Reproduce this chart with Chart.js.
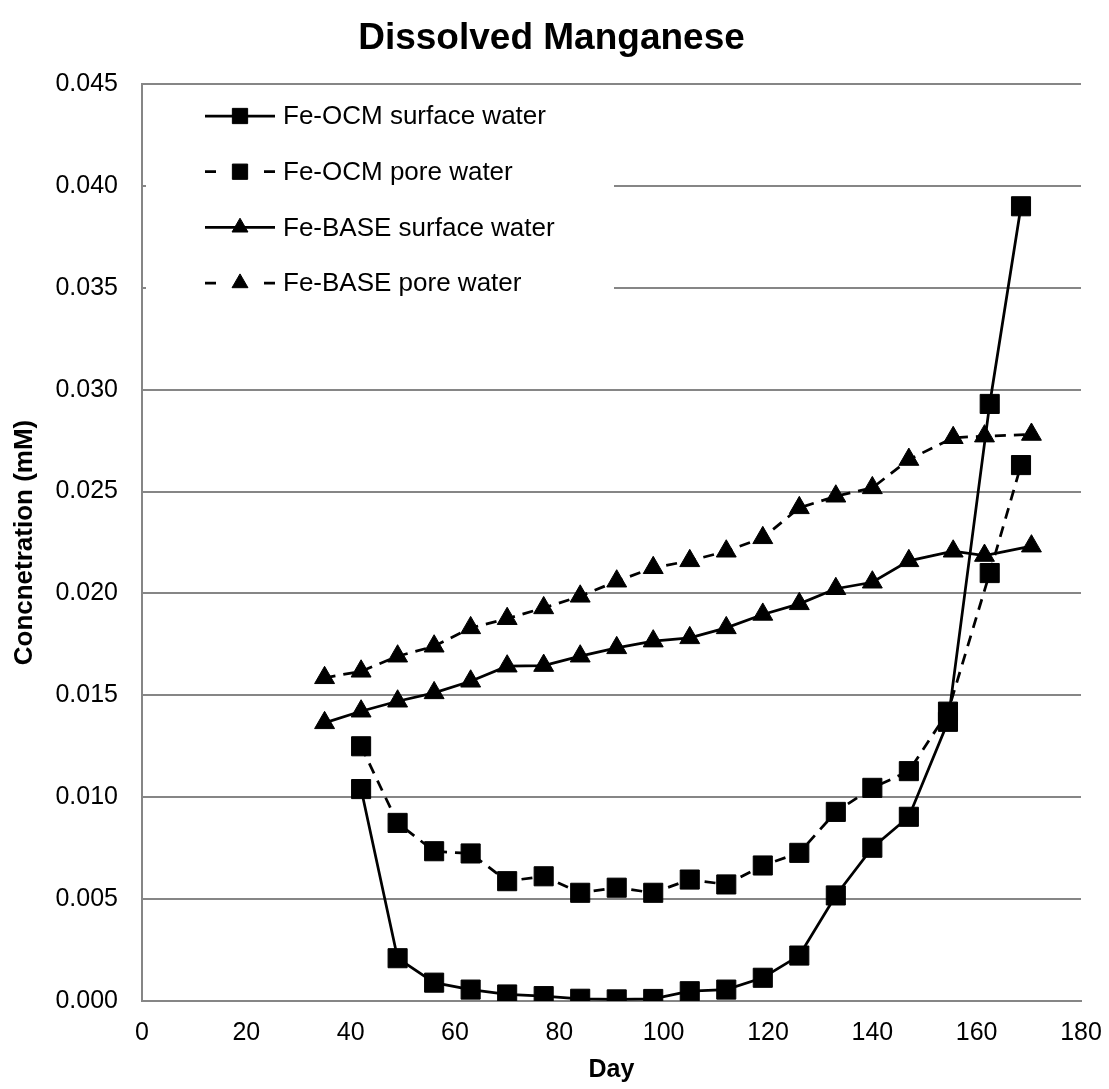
<!DOCTYPE html>
<html>
<head>
<meta charset="utf-8">
<title>Dissolved Manganese</title>
<script src="https://cdn.jsdelivr.net/npm/chart.js@4.4.1/dist/chart.umd.min.js"></script>
<style>
  html, body { margin: 0; padding: 0; background: #fff; }
  #wrap { width: 1109px; height: 1089px; }
</style>
</head>
<body>
<div id="wrap"><canvas id="chart" width="1109" height="1089"></canvas></div>
<script>
// Sampling days
const ocmDays  = [42, 49, 56, 63, 70, 77, 84, 91, 98, 105, 112, 119, 126, 133, 140, 147, 154.5, 162.5, 168.5];
const baseDays = [35, 42, 49, 56, 63, 70, 77, 84, 91, 98, 105, 112, 119, 126, 133, 140, 147, 155.5, 161.5, 170.5];

// Dissolved Mn concentrations (mM)
const ocmSurface  = [0.0104, 0.0021, 0.0009, 0.00056, 0.00032, 0.00024, 0.00011, 0.00008, 0.0001, 0.00048,
                     0.00056, 0.00114, 0.00223, 0.00518, 0.00752, 0.00904, 0.0137, 0.0293, 0.0390];
const ocmPore     = [0.0125, 0.00874, 0.00735, 0.00724, 0.00588, 0.00612, 0.00531, 0.00556, 0.00531, 0.00596,
                     0.00572, 0.00665, 0.00727, 0.00928, 0.01046, 0.01128, 0.0142, 0.0210, 0.0263];
const baseSurface = [0.01365, 0.01422, 0.01471, 0.01512, 0.01569, 0.01643, 0.01646, 0.01692, 0.01733, 0.01766,
                     0.01782, 0.01831, 0.01897, 0.01949, 0.02023, 0.02055, 0.0216, 0.02207, 0.02186, 0.02232];
const basePore    = [0.01586, 0.01618, 0.01692, 0.01741, 0.01831, 0.01876, 0.01929, 0.01986, 0.0206, 0.02126,
                     0.0216, 0.02207, 0.02273, 0.0242, 0.02477, 0.02518, 0.02657, 0.02764, 0.02772, 0.0278];

const seriesNames = ['Fe-OCM surface water', 'Fe-OCM pore water', 'Fe-BASE surface water', 'Fe-BASE pore water'];

const xTicks = { min: 0, max: 180, step: 20 };
const yTicks = { min: 0, max: 0.045, step: 0.005 };

const pairs = (xs, ys) => xs.map((x, i) => ({ x: x, y: ys[i] }));

const INK = '#000000';
const GRID = '#868686';
const DASH = [11, 8];

function series(label, xs, ys, style, dashed) {
  const tri = style === 'triangle';
  return {
    label: label,
    data: pairs(xs, ys),
    borderColor: INK,
    backgroundColor: INK,
    borderWidth: 2.75,
    borderDash: dashed ? DASH : [],
    pointStyle: style,
    pointRadius: tri ? 11.5 : 13.5,
    pointBorderWidth: 1,
    pointBackgroundColor: INK,
    pointBorderColor: INK,
    tension: 0,
    fill: false
  };
}

// Key drawn inside the plot: line sample with marker, then the series name
const seriesKey = {
  id: 'seriesKey',
  beforeDatasetsDraw(chart, args, opts) {
    const ctx = chart.ctx;
    const a = chart.chartArea;
    ctx.save();
    ctx.fillStyle = '#ffffff';
    ctx.fillRect(a.left + opts.boxLeft, a.top + opts.boxTop, opts.boxWidth, opts.boxHeight);
    chart.data.datasets.forEach((ds, i) => {
      const y = a.top + opts.firstRow + i * opts.rowGap;
      const x0 = a.left + opts.lineStart;
      const x1 = x0 + opts.lineLength;
      const xm = (x0 + x1) / 2;
      ctx.strokeStyle = ds.borderColor;
      ctx.lineWidth = ds.borderWidth;
      ctx.lineCap = 'butt';
      ctx.setLineDash([]);
      ctx.beginPath();
      if (ds.borderDash && ds.borderDash.length) {
        const d = ds.borderDash[0];
        ctx.moveTo(x0, y); ctx.lineTo(x0 + d, y);
        ctx.moveTo(x1 - d, y); ctx.lineTo(x1, y);
      } else {
        ctx.moveTo(x0, y); ctx.lineTo(x1, y);
      }
      ctx.stroke();
      ctx.fillStyle = ds.pointBackgroundColor;
      ctx.strokeStyle = ds.pointBorderColor;
      ctx.lineWidth = ds.pointBorderWidth;
      Chart.helpers.drawPoint(ctx, {
        pointStyle: ds.pointStyle,
        radius: ds.pointStyle === 'triangle' ? ds.pointRadius * 0.8 : ds.pointRadius * 0.8,
        rotation: 0,
        borderWidth: ds.pointBorderWidth
      }, xm, y);
      ctx.fillStyle = INK;
      ctx.font = opts.font;
      ctx.textAlign = 'left';
      ctx.textBaseline = 'middle';
      ctx.fillText(ds.label, a.left + opts.textStart, y + 1);
    });
    ctx.restore();
  }
};

Chart.defaults.font.family = "'Liberation Sans', Arial, sans-serif";
Chart.defaults.color = INK;

new Chart(document.getElementById('chart'), {
  type: 'line',
  data: {
    datasets: [
      series(seriesNames[0], ocmDays, ocmSurface, 'rect', false),
      series(seriesNames[1], ocmDays, ocmPore, 'rect', true),
      series(seriesNames[2], baseDays, baseSurface, 'triangle', false),
      series(seriesNames[3], baseDays, basePore, 'triangle', true)
    ]
  },
  options: {
    responsive: false,
    animation: false,
    devicePixelRatio: 1,
    layout: { padding: { left: 22, right: 28, top: 0, bottom: 0 } },
    plugins: {
      legend: { display: false },
      tooltip: { enabled: false },
      title: {
        display: true,
        text: 'Dissolved Manganese',
        color: INK,
        font: { size: 37, weight: 'bold' },
        padding: { top: 17, bottom: 22.6 }
      },
      seriesKey: {
        boxLeft: 4, boxTop: 6, boxWidth: 468, boxHeight: 216,
        firstRow: 32, rowGap: 55.7,
        lineStart: 63, lineLength: 70, textStart: 141,
        font: "26px 'Liberation Sans', Arial, sans-serif"
      }
    },
    scales: {
      x: {
        type: 'linear',
        min: xTicks.min,
        max: xTicks.max,
        afterFit(scale) { scale.height = 88; scale.paddingLeft = 0; scale.paddingRight = 0; },
        ticks: { stepSize: xTicks.step, padding: 17, font: { size: 25 }, color: INK, maxRotation: 0 },
        grid: { display: false, drawTicks: false },
        border: { display: true, color: GRID, width: 2 },
        title: { display: true, text: 'Day', font: { size: 25, weight: 'bold' }, color: INK, padding: { top: 0, bottom: 4 } }
      },
      y: {
        type: 'linear',
        min: yTicks.min,
        max: yTicks.max,
        afterFit(scale) { scale.width = 120; scale.paddingTop = 0; scale.paddingBottom = 0; },
        ticks: {
          stepSize: yTicks.step,
          padding: 24,
          font: { size: 25 },
          color: INK,
          callback: (v) => v.toFixed(3)
        },
        grid: { color: GRID, lineWidth: 2, drawTicks: false },
        border: { display: true, color: GRID, width: 2 },
        title: { display: true, text: 'Concnetration (mM)', font: { size: 26, weight: 'bold' }, color: INK, padding: { top: -13, bottom: 0 } }
      }
    }
  },
  plugins: [seriesKey]
});
</script>
</body>
</html>
